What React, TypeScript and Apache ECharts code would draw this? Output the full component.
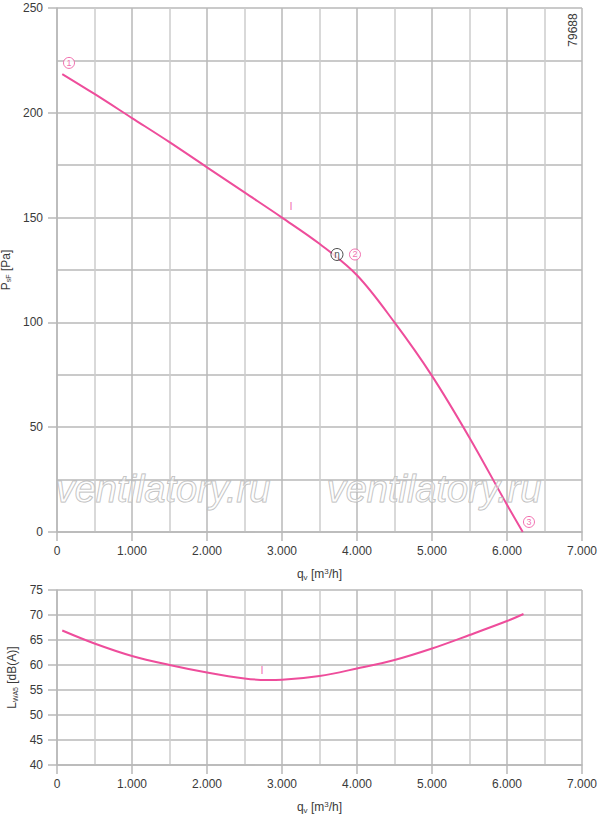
import React, { useEffect, useRef } from "react";
import * as echarts from "echarts";

const pressureFlow = [70, 500, 1000, 1500, 2000, 2500, 3000, 3500, 4000, 4500, 5000, 5500, 6000, 6210];
const pressureValues = [218.5, 209, 197.5, 186, 174, 162, 150, 137.5, 122.5, 100, 74.5, 45, 13, 0];

const soundFlow = [70, 500, 1000, 1500, 2000, 2500, 2800, 3000, 3500, 4000, 4500, 5000, 5500, 6000, 6220];
const soundValues = [66.9, 64.3, 61.8, 60.0, 58.5, 57.3, 57.0, 57.05, 57.8, 59.3, 61.0, 63.3, 66.0, 68.8, 70.2];

const circledMarks = [
  { label: "1", x: 160, y: 223.8 },
  { label: "2", x: 3973, y: 132.4 },
  { label: "3", x: 6293, y: 4.8 },
];
const etaMark = { label: "η", x: 3733, y: 132.4 };
const curveLabelTop = { label: "I", x: 3120, y: 155.7 };
const curveLabelBottom = { label: "I", x: 2733, y: 59 };

const xTicks = { min: 0, max: 7000, interval: 1000 };
const pTicks = { min: 0, max: 250, interval: 50 };
const lTicks = { min: 40, max: 75, interval: 5 };

const PINK = "#ee4d9b";
const GRID = "#b8b8b8";
const MINOR = "#cccccc";
const TXT = "#3a3a3a";
const FONT = "Liberation Sans, Arial, sans-serif";

function fmtThousands(v: number) {
  if (v === 0) return "0";
  return String(v).replace(/\B(?=(\d{3})+(?!\d))/g, ".");
}

export default function App() {
  const ref = useRef<HTMLDivElement>(null);
  useEffect(() => {
    document.body.style.margin = "0";
    if (!ref.current) return;
    const chart = echarts.init(ref.current, undefined, { renderer: "svg" });

    const xAxisBase = (gridIndex: number) => ({
      type: "value",
      gridIndex,
      min: xTicks.min,
      max: xTicks.max,
      interval: xTicks.interval,
      name: "{a|q}{b|v}{a| [m}{c|3}{a|/h]}",
      nameLocation: "middle",
      nameGap: 35,
      nameTextStyle: {
        rich: {
          a: { fontSize: 12, color: TXT, fontFamily: FONT },
          b: { fontSize: 8, color: TXT, fontFamily: FONT, padding: [6, 0, 0, 0] },
          c: { fontSize: 8, color: TXT, fontFamily: FONT, padding: [0, 0, 6, 0] },
        },
      },
      axisLine: { show: true, lineStyle: { color: GRID, width: 1.5 } },
      axisTick: { show: true, length: 9, lineStyle: { color: GRID, width: 1.5 } },
      axisLabel: {
        margin: 13,
        color: TXT,
        fontSize: 12,
        fontFamily: FONT,
        formatter: (v: number) => fmtThousands(v),
      },
      splitLine: { show: true, lineStyle: { color: GRID, width: 1.5 } },
      minorTick: { show: false, splitNumber: 2 },
      minorSplitLine: { show: true, lineStyle: { color: MINOR, width: 1.5 } },
    });

    const yAxisBase = (gridIndex: number, t: any, name: string, rich: any, minor: boolean) => ({
      type: "value",
      gridIndex,
      min: t.min,
      max: t.max,
      interval: t.interval,
      name,
      nameLocation: "middle",
      nameGap: 38,
      nameTextStyle: { rich },
      axisLine: { show: true, lineStyle: { color: GRID, width: 1.5 } },
      axisTick: { show: true, length: 9, lineStyle: { color: GRID, width: 1.5 } },
      axisLabel: { margin: 14, color: TXT, fontSize: 12, fontFamily: FONT },
      splitLine: { show: true, lineStyle: { color: GRID, width: 1.5 } },
      minorTick: { show: false, splitNumber: 2 },
      minorSplitLine: { show: minor, lineStyle: { color: GRID, width: 1.5 } },
    });

    const richP = {
      a: { fontSize: 12, color: TXT, fontFamily: FONT },
      b: { fontSize: 7, color: TXT, fontFamily: FONT, padding: [6, 0, 0, 0] },
    };

    const circledData = circledMarks.map((m) => ({ value: [m.x, m.y], label: { formatter: m.label } }));

    const watermark = (x: number) => ({
      type: "text",
      x,
      y: 489,
      style: {
        text: "ventilatory.ru",
        fill: "rgba(255,255,255,0.4)",
        stroke: "#b8b8b8",
        lineWidth: 1,
        font: `italic 38px ${FONT}`,
        align: "center",
        verticalAlign: "middle",
      },
      z: 10,
    });

    chart.setOption({
      animation: false,
      backgroundColor: "#ffffff",
      grid: [
        { left: 57, top: 8, width: 525, height: 524, outerBoundsMode: "none", containLabel: false },
        { left: 57, top: 590, width: 525, height: 175, outerBoundsMode: "none", containLabel: false },
      ],
      xAxis: [xAxisBase(0), xAxisBase(1)],
      yAxis: [
        yAxisBase(0, pTicks, "{a|P}{b|sF}{a| [Pa]}", richP, true),
        yAxisBase(1, lTicks, "{a|L}{b|WA5}{a| [dB(A)]}", richP, false),
      ],
      graphic: [
        {
          type: "text",
          x: 573,
          y: 30,
          rotation: Math.PI / 2,
          style: { text: "79688", fill: TXT, font: `12px ${FONT}`, align: "center", verticalAlign: "middle" },
          z: 10,
        },
        watermark(163),
        watermark(434),
      ],
      series: [
        {
          type: "line",
          xAxisIndex: 0,
          yAxisIndex: 0,
          data: pressureFlow.map((x, i) => [x, pressureValues[i]]),
          smooth: 0.35,
          symbol: "none",
          lineStyle: { color: PINK, width: 2 },
          z: 5,
        },
        {
          type: "line",
          xAxisIndex: 1,
          yAxisIndex: 1,
          data: soundFlow.map((x, i) => [x, soundValues[i]]),
          smooth: 0.35,
          symbol: "none",
          lineStyle: { color: PINK, width: 2 },
          z: 5,
        },
        {
          type: "scatter",
          xAxisIndex: 0,
          yAxisIndex: 0,
          data: circledData,
          symbol: "circle",
          symbolSize: 11,
          itemStyle: { color: "#ffffff", borderColor: PINK, borderWidth: 1 },
          label: { show: true, position: "inside", color: PINK, fontSize: 9, fontFamily: FONT },
          z: 6,
        },
        {
          type: "scatter",
          xAxisIndex: 0,
          yAxisIndex: 0,
          data: [{ value: [etaMark.x, etaMark.y], label: { formatter: etaMark.label } }],
          symbol: "circle",
          symbolSize: 12,
          itemStyle: { color: "#ffffff", borderColor: "#222222", borderWidth: 1 },
          label: { show: true, position: "inside", color: "#222222", fontSize: 10, fontFamily: FONT },
          z: 7,
        },
        {
          type: "scatter",
          xAxisIndex: 0,
          yAxisIndex: 0,
          data: [{ value: [curveLabelTop.x, curveLabelTop.y], label: { formatter: curveLabelTop.label } }],
          symbolSize: 0,
          label: { show: true, position: "inside", color: PINK, fontSize: 11, fontFamily: FONT },
          z: 6,
        },
        {
          type: "scatter",
          xAxisIndex: 1,
          yAxisIndex: 1,
          data: [{ value: [curveLabelBottom.x, curveLabelBottom.y], label: { formatter: curveLabelBottom.label } }],
          symbolSize: 0,
          label: { show: true, position: "inside", color: PINK, fontSize: 11, fontFamily: FONT },
          z: 6,
        },
      ],
    });
    return () => chart.dispose();
  }, []);
  return <div ref={ref} style={{ width: 600, height: 816 }} />;
}
